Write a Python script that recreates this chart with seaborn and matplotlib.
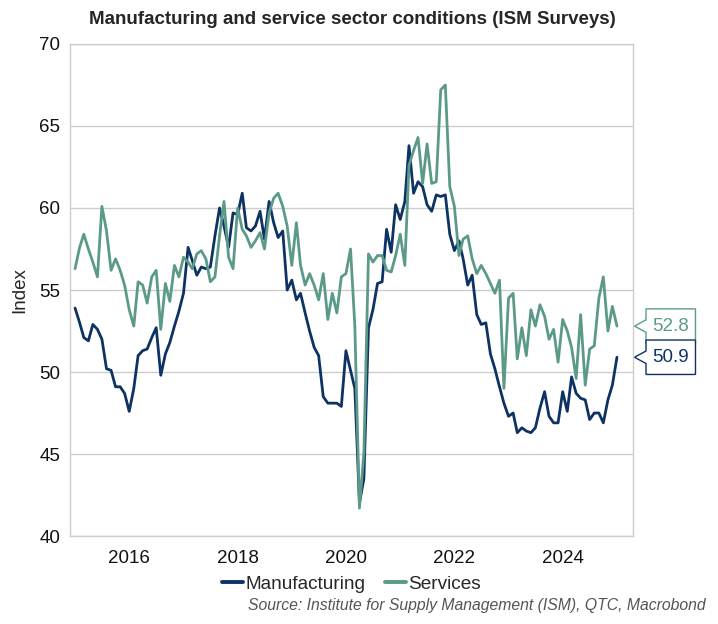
import matplotlib.pyplot as plt
import matplotlib.dates as mdates
import matplotlib.transforms as mtransforms
from matplotlib.patches import Polygon
import pandas as pd
import seaborn as sns

# monthly ISM readings, Jan 2015 - Jan 2025
dates = pd.date_range('2015-01-01', '2025-01-01', freq='MS')

manufacturing = [
    53.9, 53.0, 52.1, 51.9, 52.9, 52.6, 52.0, 50.2, 50.1, 49.1, 49.1, 48.7,  # 2015
    47.6, 49.0, 51.0, 51.3, 51.4, 52.1, 52.7, 49.8, 51.1, 51.8, 52.8, 53.7,  # 2016
    54.8, 57.6, 56.8, 55.9, 56.4, 56.3, 56.4, 58.3, 60.0, 58.9, 57.6, 59.7,  # 2017
    59.6, 60.9, 58.8, 58.6, 58.9, 59.8, 58.1, 60.4, 59.1, 58.2, 58.6, 55.0,  # 2018
    55.6, 54.4, 54.8, 53.6, 52.5, 51.5, 51.0, 48.5, 48.1, 48.1, 48.1, 47.9,  # 2019
    51.3, 50.1, 49.0, 42.0, 43.5, 52.7, 53.8, 55.4, 55.5, 58.7, 57.3, 60.2,  # 2020
    59.3, 60.4, 63.8, 60.9, 61.6, 61.3, 60.2, 59.8, 60.8, 60.7, 60.8, 58.4,  # 2021
    57.4, 58.0, 56.9, 55.3, 55.9, 53.5, 52.9, 53.0, 51.1, 50.2, 49.1, 48.1,  # 2022
    47.3, 47.5, 46.3, 46.6, 46.4, 46.3, 46.6, 47.8, 48.8, 47.3, 46.9, 46.9,  # 2023
    48.8, 47.6, 49.7, 48.7, 48.4, 48.3, 47.1, 47.5, 47.5, 46.9, 48.3, 49.2,  # 2024
    50.9,                                                                    # 2025
]

services = [
    56.3, 57.6, 58.4, 57.5, 56.7, 55.8, 60.1, 58.6, 56.2, 56.9, 56.2, 55.3,  # 2015
    53.8, 52.8, 55.5, 55.3, 54.2, 55.8, 56.2, 52.6, 55.4, 54.3, 56.5, 55.8,  # 2016
    57.0, 56.7, 56.3, 57.2, 57.4, 56.9, 55.5, 55.8, 58.3, 60.4, 57.0, 56.3,  # 2017
    60.0, 58.7, 58.3, 57.6, 58.0, 58.5, 57.5, 59.7, 60.6, 60.9, 60.1, 58.9,  # 2018
    56.5, 59.1, 56.5, 55.3, 56.0, 55.3, 54.4, 56.0, 53.2, 54.8, 53.6, 55.8,  # 2019
    56.0, 57.5, 52.8, 41.7, 45.1, 57.2, 56.7, 57.1, 57.1, 56.2, 56.1, 57.1,  # 2020
    58.4, 56.5, 62.6, 63.5, 64.3, 61.5, 63.9, 61.5, 61.6, 67.2, 67.5, 61.3,  # 2021
    60.1, 57.1, 58.1, 58.3, 56.9, 56.0, 56.5, 56.0, 55.4, 54.8, 55.6, 49.0,  # 2022
    54.5, 54.8, 50.8, 52.7, 51.0, 53.8, 52.8, 54.1, 53.4, 52.0, 52.6, 50.6,  # 2023
    53.2, 52.5, 51.5, 49.6, 53.5, 49.2, 51.4, 51.6, 54.5, 55.8, 52.5, 54.0,  # 2024
    52.8,                                                                    # 2025
]

series_names = ['Manufacturing', 'Services']
colors = {'Manufacturing': '#0d3263', 'Services': '#5b9a89'}

df = pd.DataFrame({
    'date': list(dates) * 2,
    'value': manufacturing + services,
    'series': ['Manufacturing'] * len(dates) + ['Services'] * len(dates),
})

sns.set_style('white')
plt.rcParams['font.family'] = ['Liberation Sans', 'DejaVu Sans']

fig = plt.figure(figsize=(7.18, 6.24), dpi=100)
ax = fig.add_axes([0.0975, 0.141, 0.7841, 0.7885])

sns.lineplot(data=df, x='date', y='value', hue='series', hue_order=series_names,
             palette=colors, linewidth=2.0, ax=ax)

ax.set_ylim(40, 70)
ax.set_yticks(range(40, 71, 5))
ax.set_xlim(pd.Timestamp('2014-11-28'), pd.Timestamp('2025-04-19'))
ax.xaxis.set_major_locator(mdates.YearLocator(2))
ax.xaxis.set_major_formatter(mdates.DateFormatter('%Y'))

ax.yaxis.grid(True, color='#cccccc', linewidth=1)
ax.xaxis.grid(False)
for s in ax.spines.values():
    s.set_color('#cccccc')
    s.set_linewidth(1)
ax.tick_params(axis='both', length=4, width=1, color='#555555',
               labelsize=13.5, labelcolor='#111111', pad=3)
ax.tick_params(axis='x', pad=6)

ax.set_xlabel('')
ax.set_ylabel('Index', fontsize=13.5, labelpad=8)

leg = ax.legend(loc='center', bbox_to_anchor=(0.5, -0.098), ncol=2, frameon=False,
                fontsize=13.7, handlelength=1.1, handletextpad=0.15, columnspacing=1.0)
for line in leg.get_lines():
    line.set_linewidth(2.8)

# last-value tags on the right edge
trans = mtransforms.blended_transform_factory(ax.transAxes, ax.transData)
tip, base, right = 1.0027, 1.0231, 1.111
h, p = 1.05, 0.38
for name, vals in [('Services', services), ('Manufacturing', manufacturing)]:
    v = vals[-1]
    pts = [(tip, v), (base, v + p), (base, v + h), (right, v + h),
           (right, v - h), (base, v - h), (base, v - p)]
    ax.add_patch(Polygon(pts, closed=True, transform=trans, clip_on=False,
                         facecolor='white', edgecolor=colors[name], linewidth=1))
    ax.text((base + right) / 2, v, f'{v:.1f}', transform=trans, ha='center',
            va='center', fontsize=13.5, color=colors[name], clip_on=False)

fig.text(0.491, 0.969, 'Manufacturing and service sector conditions (ISM Surveys)',
         ha='center', va='center', fontsize=13.5, fontweight='bold')
fig.text(0.983, 0.029, 'Source: Institute for Supply Management (ISM), QTC, Macrobond',
         ha='right', va='center', fontsize=11.3, style='italic', color='#555555')

fig.savefig('out.png', dpi=100)
